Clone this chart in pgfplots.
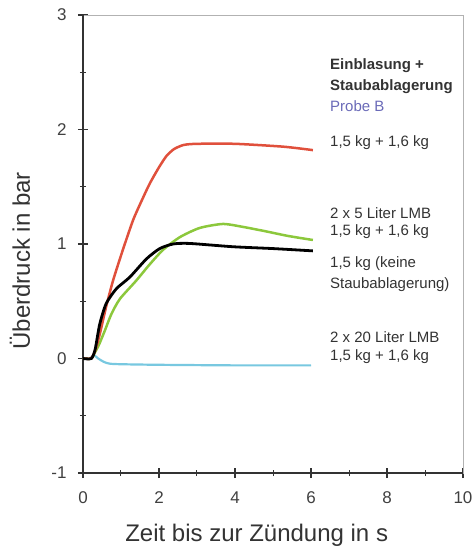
\documentclass[border=0pt]{standalone}
\usepackage{pgfplots}
\pgfplotsset{compat=1.18}
\usepackage{fontspec}
\setmainfont{Liberation Sans}
\definecolor{cred}{HTML}{E0503C}
\definecolor{cgreen}{HTML}{8CC83C}
\definecolor{ccyan}{HTML}{78C8E0}
\definecolor{cblue}{HTML}{6A6AB8}
\definecolor{ctext}{HTML}{333333}
\begin{document}
\begin{tikzpicture}
\begin{axis}[
  width=380pt, height=458pt, scale only axis,
  xmin=0, xmax=10, ymin=-1, ymax=3,
  xtick={0,2,...,10}, ytick={-1,0,1,2,3},
  minor xtick={1,3,5,7,9}, minor ytick={-0.5,0.5,1.5,2.5},
  axis line style={draw=black!30, line width=0.8pt},
  major tick style={draw=black!80, line width=1.2pt},
  minor tick style={draw=black!80, line width=1pt},
  tick align=center, major tick length=10pt, minor tick length=6pt,
  xtick pos=bottom, ytick pos=left,
  /pgf/number format/assume math mode=true,
  tick label style={font=\fontsize{17}{19}\selectfont, text=black!75},
  xticklabel style={yshift=-10pt},
  yticklabel style={xshift=-8pt},
  xlabel={Zeit bis zur Zündung in s},
  ylabel={Überdruck in bar},
  label style={font=\fontsize{24}{28}\selectfont, text=ctext},
  xlabel style={at={(axis description cs:0.457,-0.135)}, anchor=center},
  ylabel style={at={(axis description cs:-0.166,0.463)}, anchor=center, rotate=0},
  clip=false,
]
\coordinate (O) at (rel axis cs:0,0);
\draw[black!80, line width=1.5pt] (rel axis cs:0,1) -- (rel axis cs:0,0) -- (rel axis cs:1,0);

% cyan
\addplot[ccyan, line width=2.2pt, smooth, tension=0.4] coordinates {
(0.2,0) (0.28,0.03) (0.4,0.0) (0.55,-0.03) (0.7,-0.045) (1,-0.05) (2,-0.055) (4,-0.06) (6,-0.06)};
% green
\addplot[cgreen, line width=2.5pt, smooth, tension=0.4] coordinates {
(0,0) (0.22,0) (0.31,0.05) (0.42,0.12) (0.57,0.24) (0.75,0.39) (0.97,0.52) (1.40,0.68) (1.75,0.82) (2.11,0.95) (2.55,1.06) (3.07,1.14) (3.68,1.175) (4.2,1.15) (4.82,1.11) (5.4,1.07) (6.05,1.035)};
% red
\addplot[cred, line width=2.5pt, smooth, tension=0.4] coordinates {
(0,0) (0.2,0) (0.3,0.05) (0.44,0.21) (0.6,0.44) (0.79,0.68) (1.05,0.95) (1.32,1.21) (1.56,1.39) (1.76,1.53) (2.0,1.67) (2.2,1.77) (2.4,1.83) (2.65,1.865) (3.0,1.875) (4.0,1.875) (5.27,1.85) (6.05,1.82)};
% black
\addplot[black, line width=2.8pt, smooth, tension=0.4] coordinates {
(0,0) (0.22,0) (0.32,0.08) (0.44,0.30) (0.61,0.48) (0.88,0.61) (1.23,0.71) (1.67,0.87) (2.02,0.96) (2.37,1.0) (2.8,1.005) (3.95,0.976) (5,0.96) (6.05,0.94)};

\begin{scope}[every node/.style={anchor=west, inner sep=0pt, font=\fontsize{15}{17}\selectfont, text=ctext}]
\node[font=\bfseries\fontsize{15}{17}\selectfont] at (axis cs:6.5,2.56) {Einblasung +};
\node[font=\bfseries\fontsize{15}{17}\selectfont] at (axis cs:6.5,2.375) {Staubablagerung};
\node[text=cblue] at (axis cs:6.5,2.20) {Probe B};
\node at (axis cs:6.5,1.886) {1,5 kg + 1,6 kg};
\node at (axis cs:6.5,1.266) {2 x 5 Liter LMB};
\node at (axis cs:6.5,1.109) {1,5 kg + 1,6 kg};
\node at (axis cs:6.5,0.830) {1,5 kg (keine};
\node at (axis cs:6.5,0.646) {Staubablagerung)};
\node at (axis cs:6.5,0.183) {2 x 20 Liter LMB};
\node at (axis cs:6.5,0.017) {1,5 kg + 1,6 kg};
\end{scope}
\end{axis}
\pgfresetboundingbox
\path (O) ++(-83pt,-76pt) rectangle ++(472pt,549pt);
\end{tikzpicture}
\end{document}
